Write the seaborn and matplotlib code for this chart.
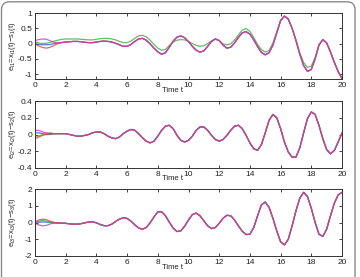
import numpy as np
import pandas as pd
import matplotlib
matplotlib.use("Agg")
import matplotlib.pyplot as plt
import seaborn as sns
from matplotlib.patches import FancyBboxPatch
from matplotlib.transforms import IdentityTransform

# ---------------- data (t = 0..20 step 0.25) ----------------
t = np.arange(0, 20.001, 0.25)

p1_main = [0.00, -0.03, -0.04, -0.04, -0.03, 0.00, 0.02, 0.04, 0.05, 0.06, 0.07, 0.07,
           0.06, 0.04, 0.03, 0.03, 0.05, 0.07, 0.08, 0.07, 0.05, 0.01, -0.04, -0.09,
           -0.09, -0.03, 0.07, 0.15, 0.17, 0.11, -0.01, -0.15, -0.27, -0.35, -0.30, -0.12,
           0.08, 0.21, 0.25, 0.19, 0.06, -0.09, -0.22, -0.28, -0.24, -0.09, 0.07, 0.15,
           0.10, -0.05, -0.15, -0.12, 0.02, 0.20, 0.35, 0.39, 0.31, 0.12, -0.10, -0.29,
           -0.37, -0.30, -0.05, 0.35, 0.75, 0.90, 0.80, 0.50, 0.10, -0.35, -0.72, -0.91,
           -0.85, -0.50, -0.05, 0.13, 0.02, -0.28, -0.62, -0.92, -1.15]
p1_green = [0.05, 0.02, 0.00, 0.01, 0.04, 0.08, 0.11, 0.14, 0.15, 0.15, 0.15, 0.15,
            0.14, 0.13, 0.12, 0.12, 0.14, 0.16, 0.17, 0.17, 0.15, 0.12, 0.07, 0.03,
            0.03, 0.08, 0.17, 0.25, 0.27, 0.22, 0.11, -0.03, -0.15, -0.22, -0.19, -0.06,
            0.05, 0.11, 0.13, 0.12, 0.07, 0.00, -0.06, -0.09, -0.07, 0.00, 0.09, 0.15,
            0.09, -0.01, -0.04, -0.01, 0.12, 0.28, 0.44, 0.49, 0.40, 0.20, -0.03, -0.20,
            -0.28, -0.23, 0.02, 0.38, 0.76, 0.90, 0.80, 0.50, 0.12, -0.30, -0.62, -0.78,
            -0.74, -0.45, -0.04, 0.13, 0.02, -0.27, -0.60, -0.90, -1.12]
p1_red_start = [-0.02, -0.08, -0.13, -0.15, -0.12, -0.06, 0.00, 0.03, 0.05]
p1_mag_start = [0.10, 0.13, 0.15, 0.14, 0.09, 0.04, 0.02, 0.03, 0.05]

p2_main = [0.00, 0.00, 0.00, 0.01, 0.01, 0.01, 0.01, 0.01, 0.01, 0.00, -0.01, -0.02,
           -0.02, -0.01, 0.00, 0.02, 0.03, 0.03, 0.01, -0.02, -0.04, -0.05, -0.03, 0.01,
           0.04, 0.06, 0.05, 0.01, -0.04, -0.08, -0.10, -0.08, -0.02, 0.05, 0.10, 0.11,
           0.07, -0.01, -0.07, -0.09, -0.07, -0.02, 0.05, 0.09, 0.09, 0.05, -0.01, -0.06,
           -0.08, -0.06, -0.01, 0.05, 0.10, 0.11, 0.07, -0.01, -0.10, -0.17, -0.19, -0.12,
           0.02, 0.17, 0.24, 0.20, 0.07, -0.09, -0.21, -0.27, -0.27, -0.16, 0.02, 0.19,
           0.27, 0.24, 0.11, -0.05, -0.18, -0.23, -0.19, -0.09, 0.02]
p2_blue_start = [0.02, 0.02, 0.01, 0.00, 0.00, 0.01, 0.01]
p2_green_start = [-0.02, -0.02, 0.00, 0.01, 0.02, 0.01, 0.01]
p2_red_start = [-0.05, -0.03, -0.01, 0.00, 0.01, 0.01, 0.01]
p2_mag_start = [0.05, 0.05, 0.03, 0.02, 0.01, 0.01, 0.01]

p3_main = [0.00, 0.02, 0.03, 0.02, 0.00, -0.02, -0.03, -0.04, -0.05, -0.08, -0.10, -0.10,
           -0.07, -0.02, 0.03, 0.04, -0.02, -0.12, -0.19, -0.19, -0.10, 0.06, 0.20, 0.28,
           0.24, 0.08, -0.14, -0.33, -0.40, -0.30, -0.02, 0.33, 0.64, 0.64, 0.40, 0.02,
           -0.33, -0.54, -0.50, -0.22, 0.15, 0.47, 0.56, 0.40, 0.10, -0.20, -0.36, -0.30,
           -0.05, 0.25, 0.43, 0.40, 0.15, -0.20, -0.52, -0.72, -0.70, -0.30, 0.40, 1.05,
           1.22, 0.90, 0.25, -0.50, -1.15, -1.34, -1.00, -0.20, 0.70, 1.45, 1.80, 1.55,
           0.85, 0.00, -0.70, -0.83, -0.40, 0.40, 1.15, 1.65, 1.80]
p3_green_start = [0.00, 0.08, 0.12, 0.08, 0.02, -0.02, -0.03]
p3_red_start = [0.05, 0.15, 0.20, 0.17, 0.08, 0.01, -0.03]
p3_mag_start = [-0.05, -0.15, -0.20, -0.17, -0.08, -0.03, -0.03]

series_names = ["blue", "green", "red", "magenta"]
colors = ["#2f55d4", "#3faa3f", "#e0472a", "#c23cc2"]

ylabels = [r"$e_{i1}\!=\!x_{i1}(t)\!-\!s_1(t)$",
           r"$e_{i2}\!=\!x_{i2}(t)\!-\!s_2(t)$",
           r"$e_{i3}\!=\!x_{i3}(t)\!-\!s_3(t)$"]
yticks = [[-1, -0.5, 0, 0.5, 1], [-0.4, -0.2, 0, 0.2, 0.4], [-2, -1, 0, 1, 2]]
ytick_labels = [["-1", "-0.5", "0", "0.5", "1"],
                ["-0.4", "-0.2", "0", "0.2", "0.4"],
                ["-2", "-1", "0", "1", "2"]]
ylims = [(-1.16, 1.0), (-0.4, 0.4), (-2, 2)]
xticks = [0, 2, 4, 6, 8, 10, 12, 14, 16, 18, 20]


def with_start(start, main):
    return list(start) + list(main[len(start):])


panels = [
    {"blue": p1_main, "green": p1_green,
     "red": with_start(p1_red_start, p1_main), "magenta": with_start(p1_mag_start, p1_main)},
    {"blue": with_start(p2_blue_start, p2_main), "green": with_start(p2_green_start, p2_main),
     "red": with_start(p2_red_start, p2_main), "magenta": with_start(p2_mag_start, p2_main)},
    {"blue": p3_main, "green": with_start(p3_green_start, p3_main),
     "red": with_start(p3_red_start, p3_main), "magenta": with_start(p3_mag_start, p3_main)},
]

# ---------------- figure ----------------
sns.set_style("white")
plt.rcParams["font.family"] = ["Liberation Sans", "DejaVu Sans"]
plt.rcParams["mathtext.fontset"] = "custom"
plt.rcParams["mathtext.rm"] = "Liberation Sans"
plt.rcParams["mathtext.it"] = "Liberation Sans"
plt.rcParams["axes.unicode_minus"] = False

W, H = 360, 277
fig = plt.figure(figsize=(W / 100, H / 100), dpi=100)
fig.patch.set_facecolor("white")

# pixel boxes (left, top, right, bottom)
boxes = [(35, 13, 342, 79), (35, 101, 342, 168), (35, 189, 342, 256)]
xlabel_top = [87, 175, 264]

for i, (box, data) in enumerate(zip(boxes, panels)):
    l, tp, r, b = box
    ax = fig.add_axes([l / W, 1 - b / H, (r - l) / W, (b - tp) / H])
    df = pd.DataFrame({
        "t": np.tile(t, 4),
        "value": np.concatenate([data[n] for n in series_names]),
        "series": np.repeat(series_names, len(t)),
    })
    sns.lineplot(data=df, x="t", y="value", hue="series", hue_order=series_names,
                 palette=colors, linewidth=0.9, alpha=0.8, legend=False,
                 estimator=None, sort=False, ax=ax)
    ax.set_xlim(0, 20)
    ax.set_ylim(*ylims[i])
    ax.set_xticks(xticks)
    ax.set_xticklabels([str(v) for v in xticks])
    ax.set_yticks(yticks[i])
    ax.set_yticklabels(ytick_labels[i])
    ax.tick_params(direction="in", length=2.5, width=0.6, labelsize=6,
                   top=True, right=True, bottom=True, left=True, pad=2,
                   colors="#222222", labelcolor="#222222")
    for s in ax.spines.values():
        s.set_color("#333333")
        s.set_linewidth(0.7)
    ax.set_xlabel("Time t", fontsize=5.5, color="#222222")
    ax.xaxis.set_label_coords((173 - l) / (r - l), -(xlabel_top[i] - b) / (b - tp))
    ax.set_ylabel(ylabels[i], fontsize=5.5, color="#222222")
    ax.yaxis.set_label_coords(-(35 - 18) / (r - l), 0.5)

# rounded outer frame (pixel coordinates)
frame = FancyBboxPatch((1.5, -20), 353.5, H - 1.8 + 20,
                       boxstyle="round,pad=0,rounding_size=8",
                       transform=IdentityTransform(), fill=False,
                       edgecolor="#8a8a8a", linewidth=1.0)
fig.patches.append(frame)

fig.savefig("out.png", dpi=100)
